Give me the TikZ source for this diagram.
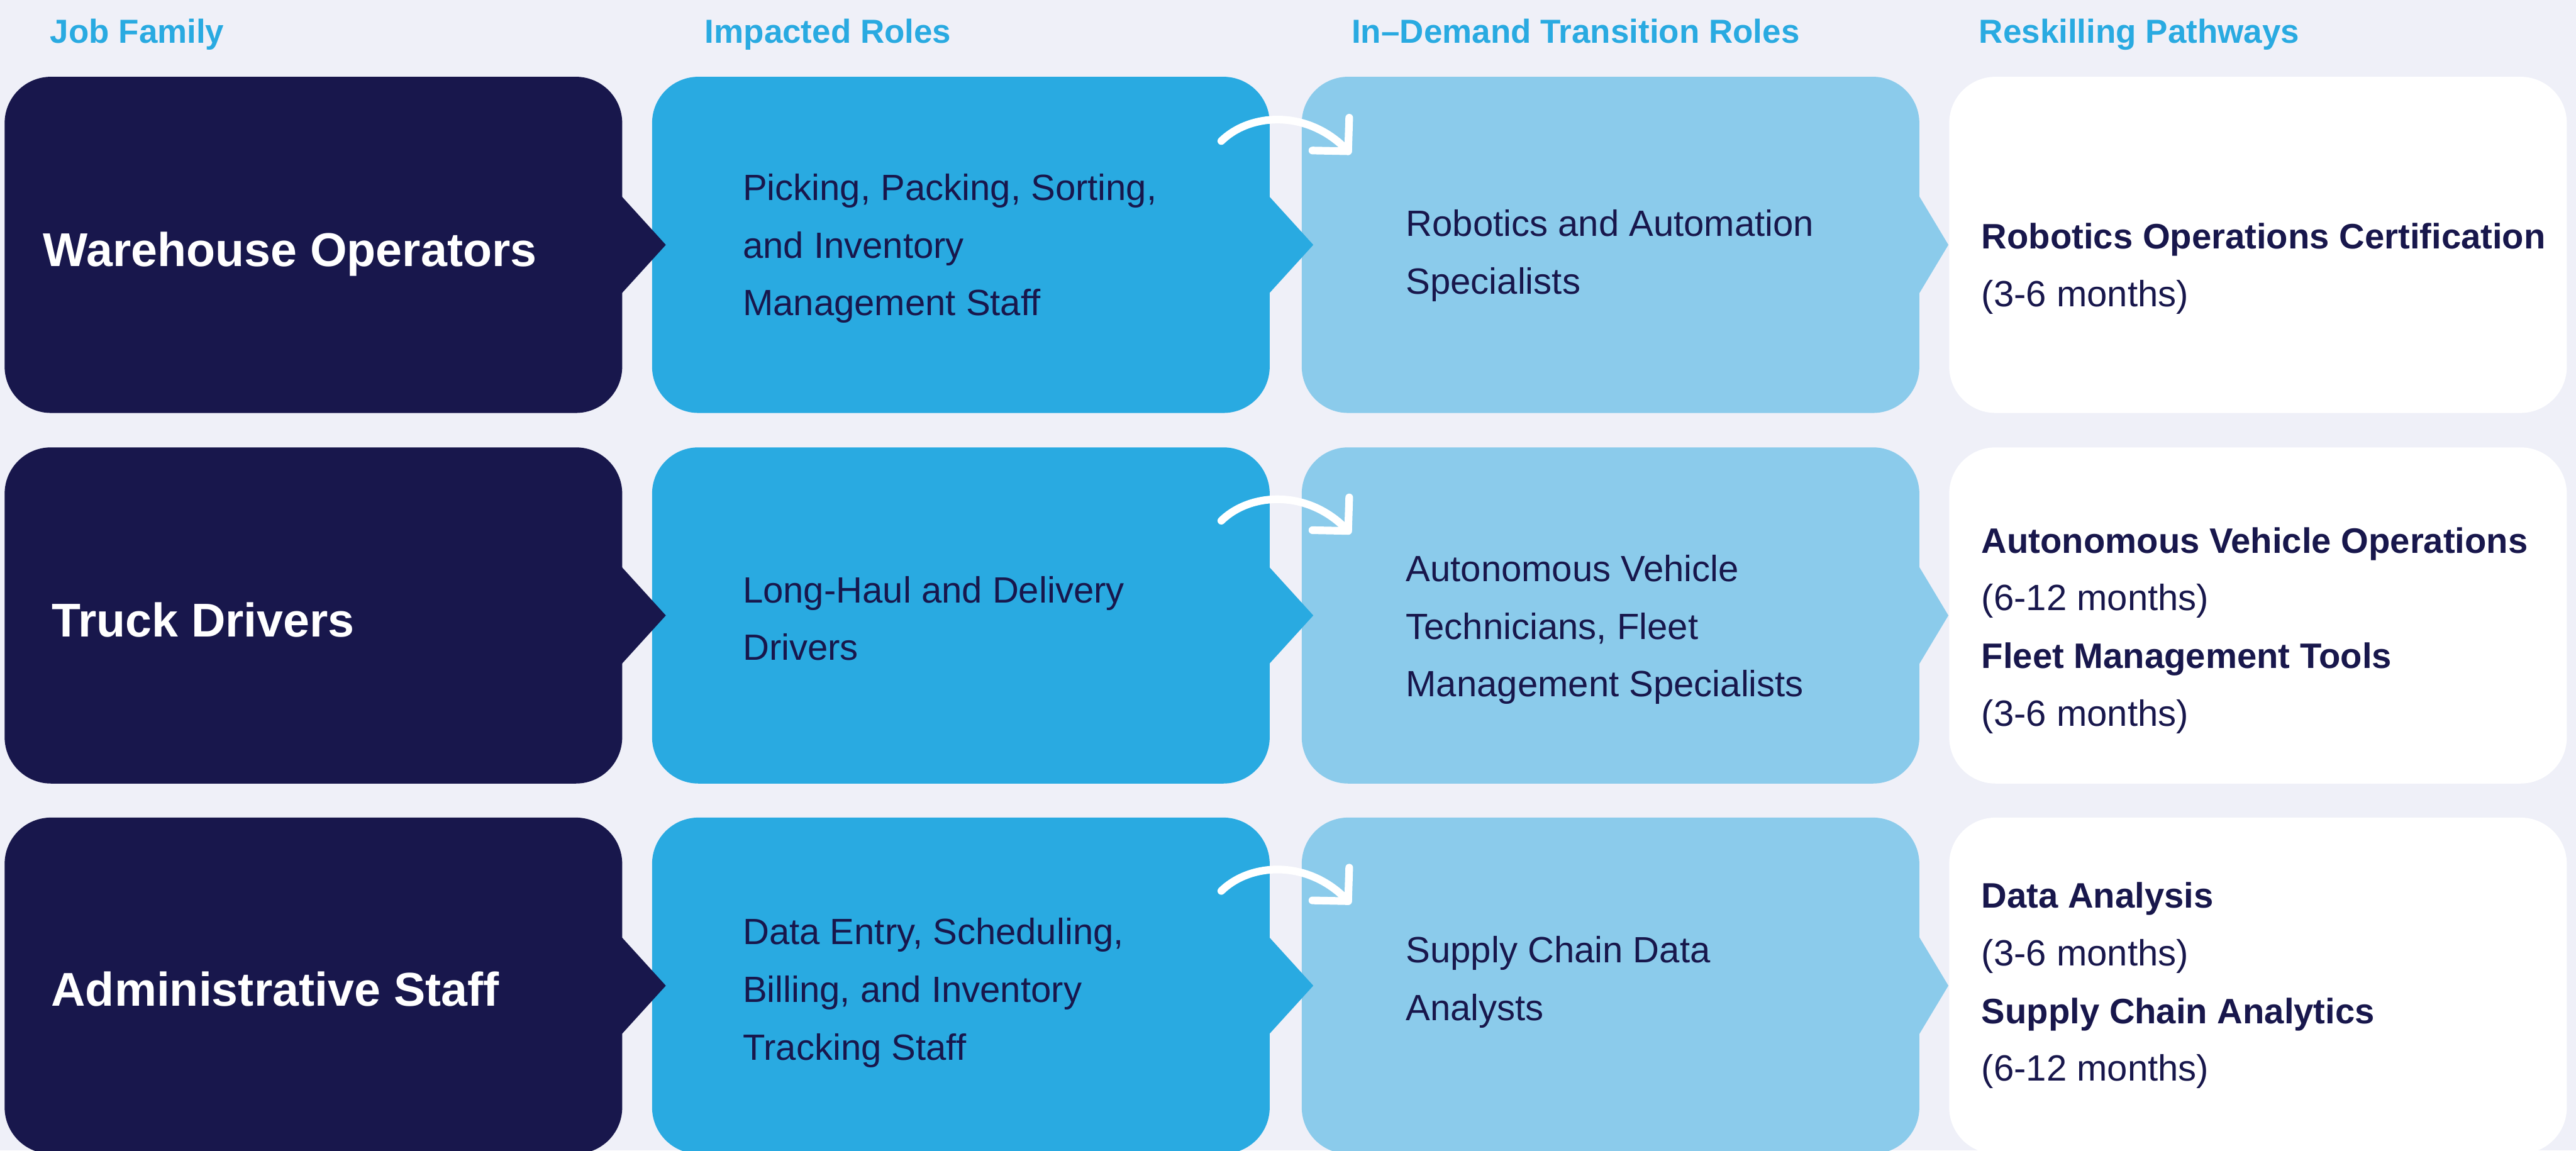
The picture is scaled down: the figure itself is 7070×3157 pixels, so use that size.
\documentclass[tikz,border=0pt]{standalone}
\usepackage{fontspec}
\setmainfont{Liberation Sans}
\usetikzlibrary{calc}

\definecolor{navy}{HTML}{18174C}
\definecolor{cyanblue}{HTML}{29AAE1}
\definecolor{paleblue}{HTML}{8BCBEB}
\definecolor{canvas}{HTML}{EFF0F8}

% course names in the last column
\newcommand\pathway[1]{{\bfseries\fontsize{27.6}{45}\selectfont #1}}

\tikzset{
  block/.style={rectangle, rounded corners=1.27cm, minimum width=16.94cm,
    minimum height=9.22cm, inner sep=0pt, anchor=north west},
  colhead/.style={font=\bfseries\fontsize{26}{30}\selectfont, text=cyanblue,
    anchor=base west, inner sep=0pt},
  famtext/.style={font=\bfseries\fontsize{37}{44}\selectfont, text=white,
    anchor=base west, inner sep=0pt},
  % base of a multi-line cell is the baseline of its last line
  celltext/.style={font=\fontsize{28.5}{45}\selectfont, text=navy,
    align=left, anchor=base west, inner sep=0pt},
  swoosh/.style={draw=white, line width=0.21cm, line cap=round, line join=round},
}

\begin{document}
\begin{tikzpicture}[x=0.01cm, y=-0.01cm]
	% page and background
	\useasboundingbox (0,0) rectangle (7070,3157);
	\clip (0,0) rectangle (7070,3157);
	\fill[canvas] (0,0) rectangle (7070,3157);
	
	% column heads
	\node[colhead] (hJob) at (137,119) {Job Family};
	\node[colhead] (hImp) at (1934,119) {Impacted Roles};
	\node[colhead] (hDem) at (3709,119) {In–Demand Transition Roles};
	\node[colhead] (hRes) at (5431,119) {Reskilling Pathways};
	
	% the four boxes of each row
	\foreach \n/\y in {1/210, 2/1227, 3/2243} {
		\node[block, fill=navy] (fam\n) at (12,\y) {};
		\node[block, fill=cyanblue] (imp\n) at (1789,\y) {};
		\node[block, fill=paleblue] (dem\n) at (3572,\y) {};
		\node[block, fill=white] (res\n) at (5349,\y) {};
	}
	
	% pointers on the right side of the boxes
	\foreach \n in {1,2,3} {
		\fill[navy] ($(fam\n.east)+(-2,-133)$) -- ($(fam\n.east)+(119,0)$) -- ($(fam\n.east)+(-2,133)$) -- cycle;
		\fill[cyanblue] ($(imp\n.east)+(-2,-133)$) -- ($(imp\n.east)+(119,0)$) -- ($(imp\n.east)+(-2,133)$) -- cycle;
		\fill[paleblue] ($(dem\n.east)+(-2,-135)$) -- ($(dem\n.east)+(79,0)$) -- ($(dem\n.east)+(-2,135)$) -- cycle;
	}
	
	% curved arrows from impacted to transition roles
	\foreach \n/\ty in {1/210, 2/1252, 3/2268} {
		\coordinate (sw\n a) at (3352,\ty+177);
		\coordinate (sw\n b) at (3700,\ty+205);
		\draw[swoosh] (sw\n a) .. controls (3430,\ty+100) and (3590,\ty+88) .. (sw\n b);
		\draw[swoosh] (3602,\ty+203) -- (sw\n b) -- (3703,\ty+113);
	}
	
	% job families
	\node[famtext] (tWare) at (118,731) {Warehouse Operators};
	\node[famtext] (tTruck) at (141,1748) {Truck Drivers};
	\node[famtext] (tAdmin) at (140,2760) {Administrative Staff};
	
	% impacted roles
	\node[celltext] (tPick) at (2038,866) {Picking, Packing, Sorting,\\and Inventory\\Management Staff};
	\node[celltext] (tHaul) at (2038,1812) {Long-Haul and Delivery\\Drivers};
	\node[celltext] (tEntry) at (2038,2909) {Data Entry, Scheduling,\\Billing, and Inventory\\Tracking Staff};
	
	% transition roles
	\node[celltext] (tRobo) at (3858,807) {Robotics and Automation\\Specialists};
	\node[celltext] (tAuto) at (3858,1912) {Autonomous Vehicle\\Technicians, Fleet\\Management Specialists};
	\node[celltext] (tChain) at (3858,2800) {Supply Chain Data\\Analysts};
	
	% reskilling pathways
	\node[celltext] (pRobo) at (5438,841) {\pathway{Robotics Operations Certification}\\(3-6 months)};
	\node[celltext] (pAuto) at (5438,1992) {\pathway{Autonomous Vehicle Operations}\\(6-12 months)\\\pathway{Fleet Management Tools}\\(3-6 months)};
	\node[celltext] (pData) at (5438,2967) {\pathway{Data Analysis}\\(3-6 months)\\\pathway{Supply Chain Analytics}\\(6-12 months)};
\end{tikzpicture}
\end{document}
